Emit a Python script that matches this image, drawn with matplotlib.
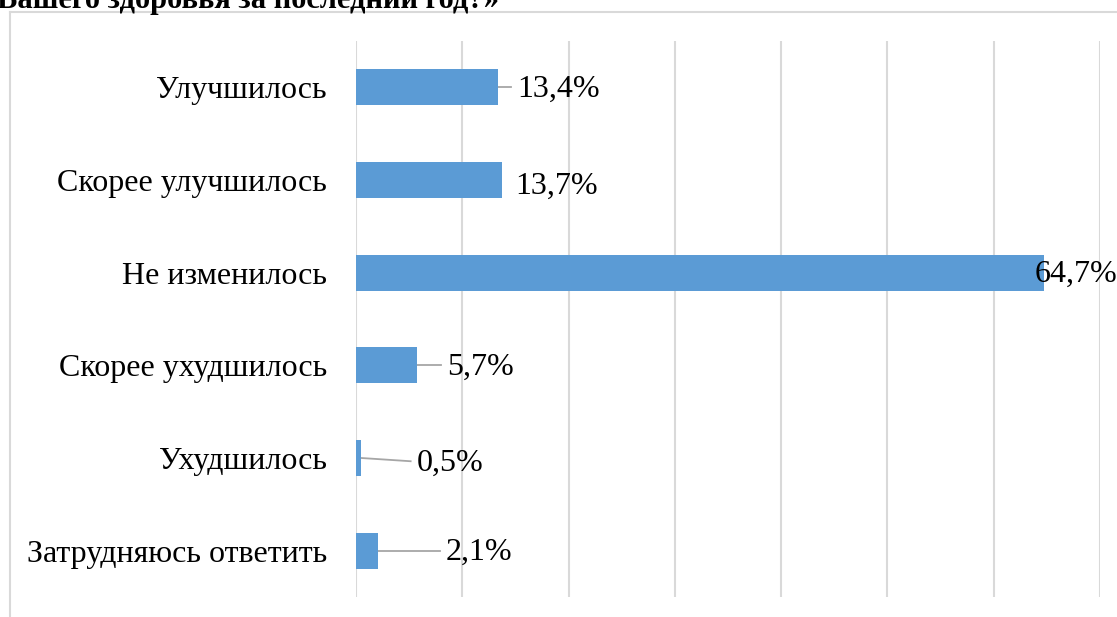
import matplotlib
matplotlib.use("Agg")
import matplotlib.pyplot as plt
import numpy as np

# Survey answers, percent of respondents
categories = [
    "Улучшилось",
    "Скорее улучшилось",
    "Не изменилось",
    "Скорее ухудшилось",
    "Ухудшилось",
    "Затрудняюсь ответить",
]
values = [13.4, 13.7, 64.7, 5.7, 0.5, 2.1]
value_labels = ["13,4%", "13,7%", "64,7%", "5,7%", "0,5%", "2,1%"]

# hand-placed data labels (shift from bar end, in % and in category rows)
label_dx = [1.75, 1.26, -0.85, 2.86, 5.24, 6.37]
label_dy = [0.0, 0.05, 0.0, 0.0, 0.035, 0.0]
has_leader = [True, False, False, True, True, True]

title_tail = "Вашего здоровья за последний год?»"

BAR = "#5B9BD5"
GRID = "#D9D9D9"
LEADER = "#A6A6A6"
FONT = "Liberation Serif"
FS = 23

fig = plt.figure(figsize=(11.17, 6.17), dpi=100)

# chart frame, runs off the right and bottom edges
fig.add_artist(plt.Line2D([10 / 1117, 10 / 1117], [0, 1 - 12 / 617],
                          color=GRID, lw=1.5, transform=fig.transFigure))
fig.add_artist(plt.Line2D([10 / 1117, 1], [1 - 12 / 617, 1 - 12 / 617],
                          color=GRID, lw=1.5, transform=fig.transFigure))

# last line of the heading, clipped by the top edge
fig.text(-3 / 1117, 1 - 8 / 617, title_tail, fontsize=22, fontweight="bold",
         family=FONT, ha="left", va="baseline")

ax = fig.add_axes([356 / 1117, 20 / 617, 744 / 1117, 556 / 617])
y = np.arange(len(categories))
ax.barh(y, values, height=0.39, color=BAR, zorder=3)

ax.set_xlim(0, 70)
ax.set_ylim(len(categories) - 0.5, -0.5)
ax.set_xticks(np.arange(0, 71, 10))
ax.xaxis.grid(True, color=GRID, lw=1.5, zorder=0)
ax.tick_params(axis="x", length=0, labelbottom=False)
ax.tick_params(axis="y", length=0, pad=21)
ax.set_yticks(y)
ax.set_yticklabels(categories, fontsize=FS, family=FONT)
for s in ax.spines.values():
    s.set_visible(False)

for i, v in enumerate(values):
    tx = v + label_dx[i]
    ty = y[i] + label_dy[i]
    if has_leader[i]:
        ax.plot([v, tx - 0.6], [y[i], ty], color=LEADER, lw=1.3, zorder=2)
    ax.text(tx, ty + 0.02, value_labels[i], fontsize=FS, family=FONT,
            ha="left", va="center", zorder=4)

fig.savefig("out.png", dpi=100)
